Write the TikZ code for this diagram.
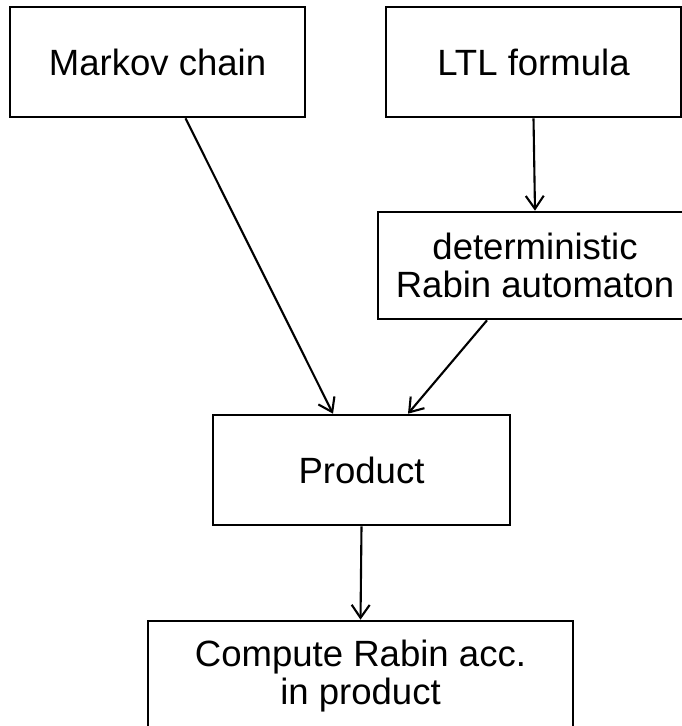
\documentclass[tikz,border=0pt]{standalone}
\usepackage{fontspec}
\setmainfont{Liberation Sans}
\usetikzlibrary{arrows.meta,positioning}

\begin{document}
\begin{tikzpicture}[x=0.02cm, y=-0.02cm,
    blocco/.style={rectangle, draw, line width=1.5pt, align=center,
        minimum height=2.2cm, inner sep=0pt,
        font=\fontsize{20.8}{21.5}\selectfont},
    freccia/.style={line width=1.2pt, -{Straight Barb[length=0.26cm, width=0.36cm, line width=1.2pt]}}]

\useasboundingbox (0,0) rectangle (682,726);

% blocchi
\node[blocco, minimum width=5.9cm] (markov) at (157.5,62) {Markov chain};
\node[blocco, minimum width=5.9cm] (ltl) at (533.5,62) {LTL formula};
\node[blocco, minimum width=6.28cm, minimum height=2.14cm] (rabin) at (535,265.5) {deterministic\\Rabin automaton};
\node[blocco, minimum width=5.94cm] (product) at (361.5,470) {Product};
\node[blocco, minimum width=8.5cm] (compute) at (360.5,676) {Compute Rabin acc.\\in product};

% frecce
\draw[freccia] ([xshift=0.56cm]markov.south) -- ([xshift=-0.57cm]product.north);
\draw[freccia] (ltl.south) -- (rabin.north);
\draw[freccia] ([xshift=-0.96cm]rabin.south) -- ([xshift=0.93cm]product.north);
\draw[freccia] (product.south) -- (compute.north);

\end{tikzpicture}
\end{document}
